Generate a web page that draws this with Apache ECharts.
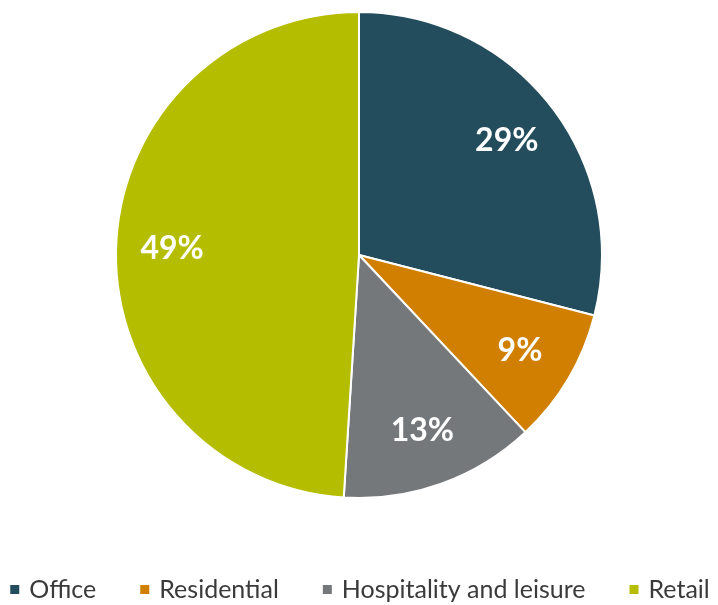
<!DOCTYPE html>
<html>
<head>
<meta charset="utf-8">
<script src="https://cdn.jsdelivr.net/npm/echarts@6/dist/echarts.min.js"></script>
<style>
html,body{margin:0;padding:0;background:#fff;}
#chart{width:718px;height:605px;}
</style>
</head>
<body>
<div id="chart"></div>
<script>
var categories = ["Office", "Residential", "Hospitality and leisure", "Retail"];
var values = [29, 9, 13, 49];
var colors = ["#234D5C", "#D07F00", "#75787B", "#B5BD00"];

var pieData = categories.map(function (c, i) {
  return { name: c, value: values[i], itemStyle: { color: colors[i] } };
});

var chart = echarts.init(document.getElementById('chart'));
chart.setOption({
  animation: false,
  legend: {
    data: categories,
    bottom: -2,
    left: 'center',
    itemWidth: 11,
    itemHeight: 11,
    itemGap: 42,
    icon: 'rect',
    textStyle: { fontFamily: 'Lato', fontSize: 25, color: '#3a3a3a', padding: [0, 0, 0, 4] }
  },
  series: [
    {
      type: 'pie',
      center: [359, 255],
      radius: [0, 243],
      startAngle: 90,
      clockwise: true,
      data: pieData,
      label: { show: false },
      labelLine: { show: false },
      itemStyle: { borderColor: '#ffffff', borderWidth: 2 },
      silent: true
    },
    {
      type: 'pie',
      center: [359, 255],
      radius: [0, 368],
      startAngle: 90,
      clockwise: true,
      silent: true,
      data: categories.map(function (c, i) { return { name: c, value: values[i] }; }),
      itemStyle: { color: 'rgba(0,0,0,0)', borderWidth: 0 },
      label: {
        show: true,
        position: 'inside',
        formatter: '{c}%',
        color: '#ffffff',
        fontFamily: 'Lato',
        fontWeight: 'bold',
        fontSize: 32
      },
      labelLine: { show: false }
    }
  ]
});
</script>
</body>
</html>
